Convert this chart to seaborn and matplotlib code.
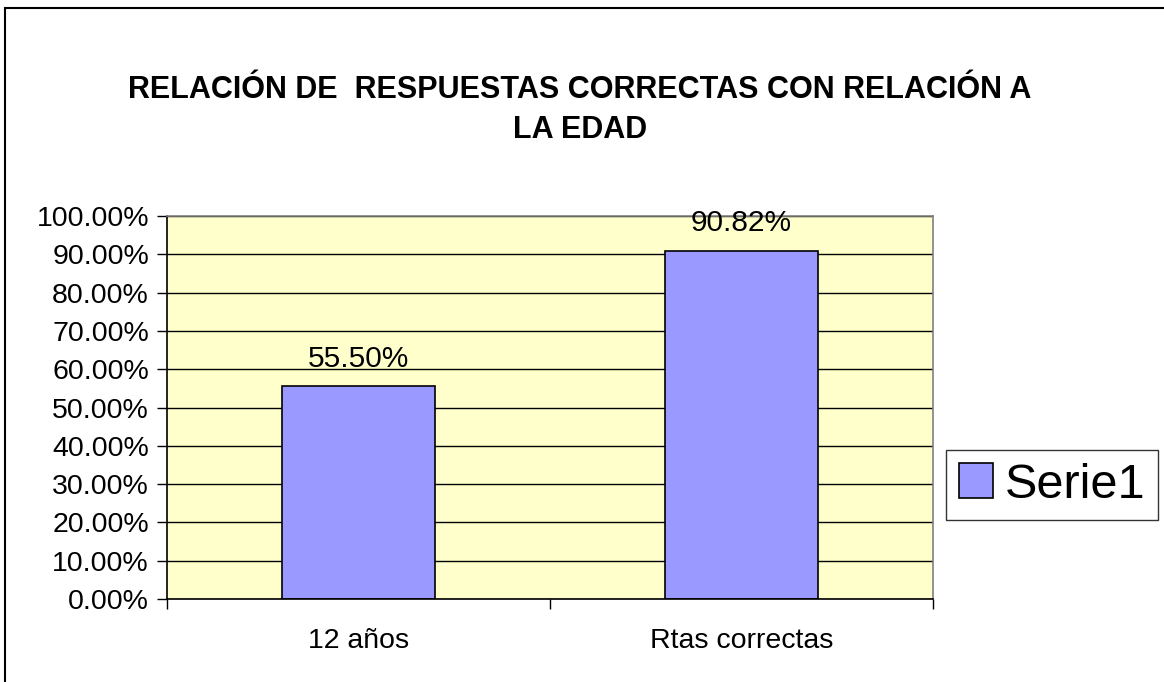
import numpy as np
import pandas as pd
import matplotlib
matplotlib.use('Agg')
import matplotlib.pyplot as plt
import seaborn as sns
from matplotlib.patches import Rectangle, Patch
from matplotlib.ticker import FuncFormatter

categories = ['12 años', 'Rtas correctas']
values = [0.5550, 0.9082]
series_name = 'Serie1'
title = 'RELACIÓN DE  RESPUESTAS CORRECTAS CON RELACIÓN A\nLA EDAD'

sns.set_style('white')
plt.rcParams['font.family'] = ['Liberation Sans', 'DejaVu Sans']
plt.rcParams['text.color'] = 'black'
plt.rcParams['xtick.color'] = 'black'
plt.rcParams['ytick.color'] = 'black'

df = pd.DataFrame({'cat': categories, 'val': values})

fig = plt.figure(figsize=(11.64, 6.82), dpi=100)
ax = fig.add_axes([167 / 1164, 83 / 682, 766 / 1164, 383 / 682])
ax.set_facecolor('#FFFFCC')

sns.barplot(data=df, x='cat', y='val', color='#9999FF', width=0.4,
            edgecolor='black', linewidth=1.2, saturation=1, ax=ax)

ax.set_ylim(0, 1.0)
ax.set_xlim(-0.5, 1.5)
ax.set_yticks(np.arange(0, 1.01, 0.1))
ax.yaxis.set_major_formatter(FuncFormatter(lambda v, p: f'{v * 100:.2f}%'))
ax.yaxis.grid(True, color='black', linewidth=1)
ax.set_axisbelow(True)
ax.set_xlabel('')
ax.set_ylabel('')

for s in ['top', 'right']:
    ax.spines[s].set_color('#808080')
for s in ['left', 'bottom']:
    ax.spines[s].set_color('black')
for s in ax.spines.values():
    s.set_linewidth(1.2)

ax.tick_params(axis='y', labelsize=20.5, length=7, width=1, color='black',
               left=True, pad=6)
ax.tick_params(axis='x', labelsize=20.5, length=0, pad=21)
# category boundary ticks on x axis
ax.set_xticks([-0.5, 0.5, 1.5], minor=True)
ax.tick_params(axis='x', which='minor', length=7, width=1, color='black',
               bottom=True, direction='out')

for i, v in enumerate(values):
    ax.text(i, v + 0.036, f'{v * 100:.2f}%', ha='center', va='bottom',
            fontsize=21.5, zorder=5)

fig.text(580 / 1164, 1 - 110 / 682, title, ha='center', va='center',
         fontsize=22, fontweight='bold', linespacing=1.4)

leg_handle = Patch(facecolor='#9999FF', edgecolor='black', linewidth=1.2)
fig.legend([leg_handle], [series_name], loc='center',
           bbox_to_anchor=(1052 / 1164, 1 - 485 / 682), fontsize=35,
           frameon=True, fancybox=False, edgecolor='black',
           handlelength=0.7, handleheight=0.7, handletextpad=0.25,
           borderpad=0.25, borderaxespad=0)

fig.patches.append(Rectangle((5 / 1164, -0.1), 1.2, 1 - 8 / 682 + 0.1,
                             transform=fig.transFigure, fill=False,
                             edgecolor='black', linewidth=1.5))

fig.savefig('out.png', dpi=100)
